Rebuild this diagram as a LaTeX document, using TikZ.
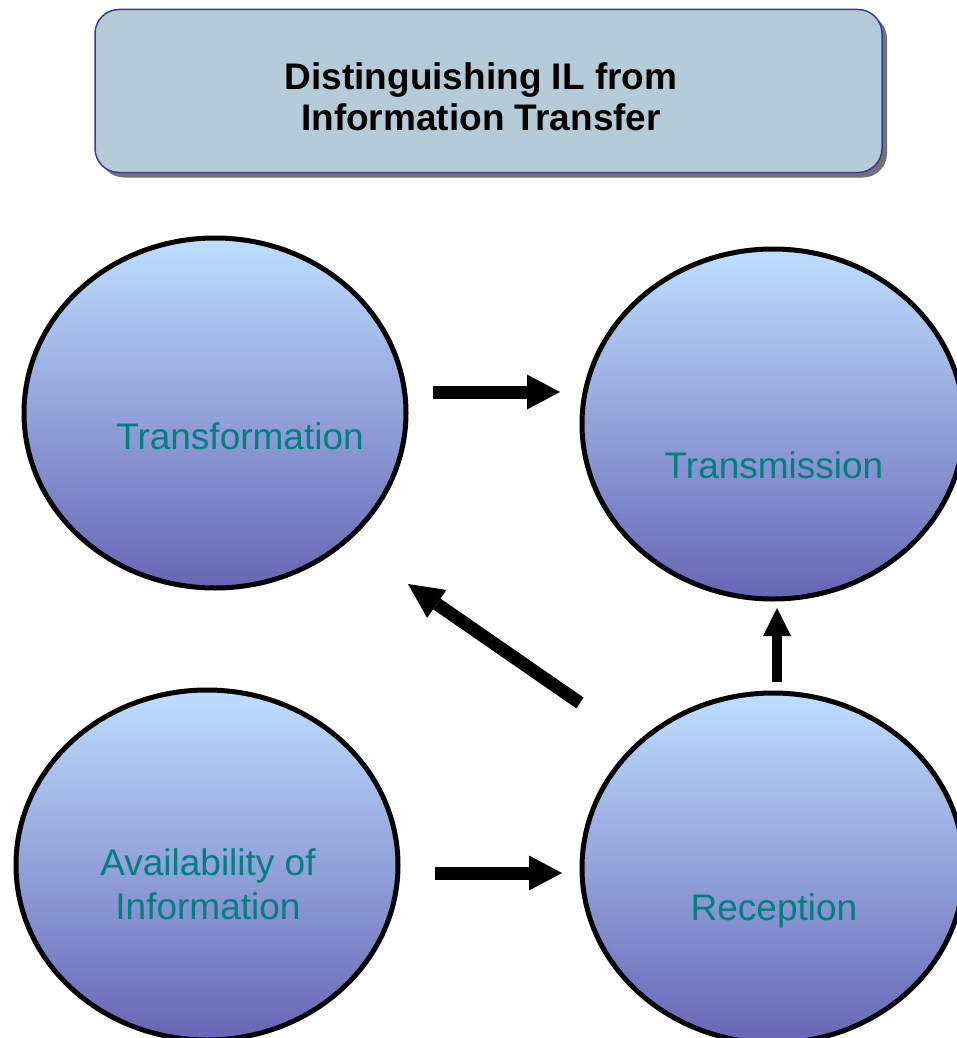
\documentclass[tikz,border=0pt]{standalone}
\usepackage{fontspec}
\setmainfont{Liberation Sans}
\usetikzlibrary{shapes.geometric,arrows.meta,shadows}
\definecolor{circtop}{RGB}{190,222,255}
\definecolor{circbot}{RGB}{102,102,180}
\definecolor{titlefill}{RGB}{181,203,216}
\definecolor{titleborder}{RGB}{60,60,150}
\definecolor{labelteal}{RGB}{0,128,128}
\begin{document}
\begin{tikzpicture}[x=1pt,y=-1pt,
  bubble/.style={ellipse, draw=black, line width=5pt, top color=circtop, bottom color=circbot,
    minimum width=382pt, minimum height=350pt, inner sep=0pt},
  lbl/.style={text=labelteal, font=\fontsize{37}{44}\selectfont, anchor=base, align=center, inner sep=0pt},
  titlebox/.style={draw=titleborder, line width=1.5pt, fill=titlefill, rounded corners=24pt,
    minimum width=787pt, minimum height=163pt, inner sep=0pt,
    drop shadow={shadow xshift=5pt, shadow yshift=-5pt, fill=black!55, opacity=1}},
  bigarrow/.style={line width=13pt, -{Triangle[length=33pt,width=35pt,line width=0pt]}},
  midarrow/.style={line width=10pt, -{Triangle[length=28pt,width=28pt,line width=0pt]}},
  diagarrow/.style={line width=13pt, -{Triangle[length=35pt,width=34pt,line width=0pt]}}]
\useasboundingbox (0,0) rectangle (957,1038);
\clip (0,0) rectangle (957,1038);
% title
\node[titlebox] (title) at (488.5,91) {};
\node[font=\bfseries\fontsize{37}{41}\selectfont, anchor=base, align=center, inner sep=0pt] (titletext) at (481,131) {Distinguishing IL from\\Information Transfer};
% bubbles
\node[bubble] (T) at (215,413) {};
\node[bubble] (M) at (773,424) {};
\node[bubble] (A) at (207,865) {};
\node[bubble] (R) at (773,868) {};
\node[lbl] (Tl) at (240,449) {Transformation};
\node[lbl] (Ml) at (774,478) {Transmission};
\node[lbl] (Al) at (208,919) {Availability of\\Information};
\node[lbl] (Rl) at (774,920) {Reception};
% arrow ends
\coordinate (a1s) at (433,392);
\coordinate (a1e) at (560,392);
\coordinate (a2s) at (435,873);
\coordinate (a2e) at (562,873);
\coordinate (a3s) at (777,682);
\coordinate (a3e) at (777,608);
\coordinate (a4s) at (580,703);
\coordinate (a4e) at (408,584);
\draw[bigarrow] (a1s) -- (a1e);
\draw[bigarrow] (a2s) -- (a2e);
\draw[midarrow] (a3s) -- (a3e);
\draw[diagarrow] (a4s) -- (a4e);
\end{tikzpicture}
\end{document}
